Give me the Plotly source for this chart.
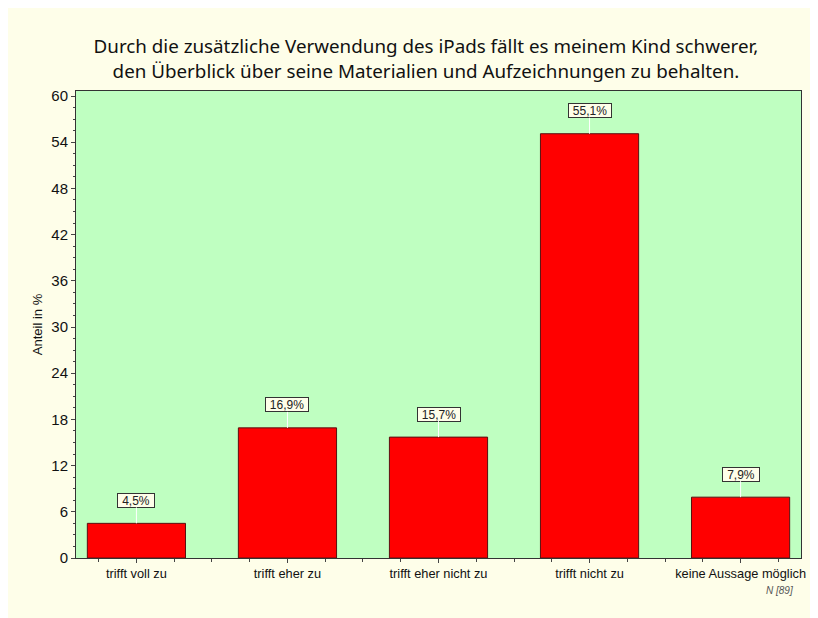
import plotly.graph_objects as go

categories = ["trifft voll zu", "trifft eher zu", "trifft eher nicht zu", "trifft nicht zu", "keine Aussage möglich"]
values = [4.5, 16.9, 15.7, 55.1, 7.9]
labels = ["4,5%", "16,9%", "15,7%", "55,1%", "7,9%"]
y_ticks = [0, 6, 12, 18, 24, 30, 36, 42, 48, 54, 60]

xpos = list(range(len(categories)))

fig = go.Figure()
fig.add_trace(go.Bar(
    x=xpos, y=values, width=0.65,
    marker=dict(color="#FF0000", line=dict(color="#5a1010", width=1)),
    hoverinfo="skip",
))

for xi, v, lab in zip(xpos, values, labels):
    fig.add_annotation(
        x=xi, y=v, xref="x", yref="y", text=lab,
        showarrow=True, arrowhead=0, arrowcolor="white", arrowwidth=1,
        ax=0, ay=-23, standoff=0,
        width=(36 if len(lab) == 4 else 42), height=13,
        bgcolor="#FEFEE9", bordercolor="#333333", borderwidth=1, borderpad=0,
        font=dict(family="Liberation Sans, Arial", size=12, color="#222222"),
    )

fig.add_annotation(
    x=1, y=0, xref="paper", yref="paper", xanchor="right", yanchor="top",
    text="<i>N [89]</i>", showarrow=False,
    font=dict(family="Liberation Sans, Arial", size=10, color="#555555"),
    xshift=-6, yshift=-25,
)

fig.update_layout(
    width=810, height=610,
    paper_bgcolor="#FEFEE9",
    plot_bgcolor="#BFFFC1",
    margin=dict(l=68, r=17, t=83, b=60),
    showlegend=False,
    title=dict(
        text="Durch die zusätzliche Verwendung des iPads fällt es meinem Kind schwerer,<br>den Überblick über seine Materialien und Aufzeichnungen zu behalten.",
        x=0.516, xanchor="center", y=0.926, yanchor="top",
        font=dict(family="Noto Sans, Open Sans", size=18.8, color="#111111"),
    ),
    xaxis=dict(
        range=[-0.4, 4.4], tickvals=xpos, ticktext=categories,
        ticks="outside", ticklen=4, tickcolor="#444444",
        minor=dict(dtick=0.25, tick0=0, ticks="outside", ticklen=3, tickcolor="#444444"),
        showgrid=False, zeroline=False, automargin=False,
        ticklabeloverflow="allow",
        showline=True, linecolor="#333333", linewidth=1, mirror=True,
        tickfont=dict(family="Liberation Sans, Arial", size=12.8, color="#111111"),
    ),
    yaxis=dict(
        range=[0, 60.65], tickvals=y_ticks,
        ticks="outside", ticklen=4, tickcolor="#444444",
        minor=dict(dtick=1.5, tick0=0, ticks="outside", ticklen=2, tickcolor="#444444"),
        showgrid=False, zeroline=False,
        showline=True, linecolor="#333333", linewidth=1, mirror=True,
        tickfont=dict(family="Liberation Sans, Arial", size=15, color="#111111"),
        title=dict(text="Anteil in %", standoff=5,
                   font=dict(family="Liberation Sans, Arial", size=13, color="#111111")),
    ),
)

fig.write_html("out.html")
